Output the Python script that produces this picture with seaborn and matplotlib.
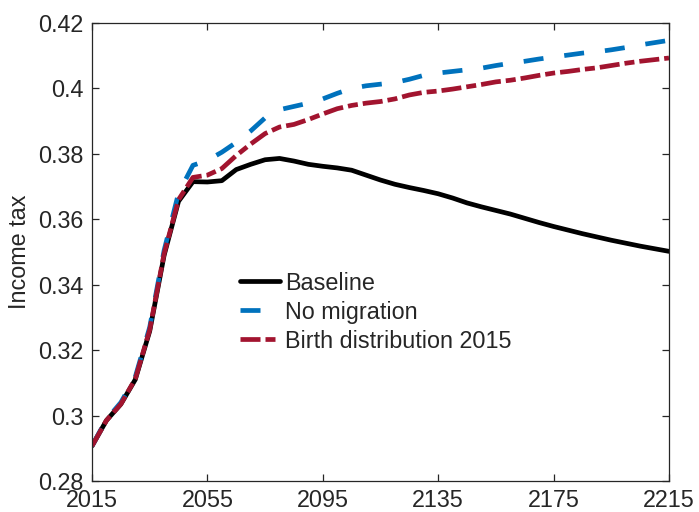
import matplotlib
matplotlib.use("Agg")
import matplotlib.pyplot as plt
import seaborn as sns
import numpy as np
import pandas as pd

years = list(range(2015, 2216, 5))

baseline = [0.2907, 0.2985, 0.3035, 0.3110, 0.3258, 0.3490, 0.3655, 0.3715, 0.3714, 0.3718,
            0.3752, 0.3768, 0.3782, 0.3786, 0.3778, 0.3768, 0.3762, 0.3757, 0.3750, 0.3735,
            0.3720, 0.3707, 0.3697, 0.3688, 0.3678, 0.3665, 0.3650, 0.3638, 0.3627, 0.3616,
            0.3603, 0.3590, 0.3578, 0.3567, 0.3556, 0.3546, 0.3536, 0.3527, 0.3518, 0.3510,
            0.3502]

no_migration = [0.2907, 0.2988, 0.3040, 0.3118, 0.3270, 0.3505, 0.3680, 0.3765, 0.3780, 0.3805,
                0.3835, 0.3870, 0.3910, 0.3935, 0.3945, 0.3955, 0.3968, 0.3985, 0.4000, 0.4008,
                0.4013, 0.4018, 0.4028, 0.4040, 0.4047, 0.4052, 0.4057, 0.4062, 0.4070, 0.4077,
                0.4083, 0.4090, 0.4096, 0.4102, 0.4108, 0.4112, 0.4118, 0.4125, 0.4133, 0.4140,
                0.4147]

birth_2015 = [0.2907, 0.2985, 0.3035, 0.3112, 0.3262, 0.3495, 0.3660, 0.3728, 0.3735, 0.3755,
              0.3795, 0.3830, 0.3862, 0.3882, 0.3890, 0.3905, 0.3922, 0.3938, 0.3948, 0.3955,
              0.3960, 0.3968, 0.3980, 0.3988, 0.3992, 0.3998, 0.4005, 0.4012, 0.4020, 0.4025,
              0.4032, 0.4040, 0.4047, 0.4052, 0.4058, 0.4063, 0.4070, 0.4077, 0.4083, 0.4088,
              0.4093]

series_labels = ["Baseline", "No migration", "Birth distribution 2015"]
x_ticks = [2015, 2055, 2095, 2135, 2175, 2215]
y_ticks = [0.28, 0.30, 0.32, 0.34, 0.36, 0.38, 0.40, 0.42]
y_tick_labels = ["0.28", "0.3", "0.32", "0.34", "0.36", "0.38", "0.4", "0.42"]
y_label = "Income tax"

sns.set_style("ticks")
plt.rcParams['font.family'] = ['Liberation Sans', 'DejaVu Sans']
plt.rcParams['lines.scale_dashes'] = False

FS = 16.8
fig = plt.figure(figsize=(6.99, 5.12), dpi=100)
ax = fig.add_axes([92/699, 1 - 481/512, 577/699, 458/512])

colors = ["#000000", "#0072BD", "#A2142F"]
styles = ["-", (0, (14.4, 15.1)), (0, (14.4, 3.6, 7.2, 3.6))]
lw = 3.4

for vals, lab, c, ls in zip([baseline, no_migration, birth_2015], series_labels, colors, styles):
    df = pd.DataFrame({"year": years, "value": vals})
    sns.lineplot(data=df, x="year", y="value", ax=ax, color=c, linewidth=lw, label=lab)
    ax.lines[-1].set_linestyle(ls)

ax.set_xlim(2015, 2215)
ax.set_ylim(0.28, 0.42)
ax.set_xticks(x_ticks)
ax.set_xticklabels([str(t) for t in x_ticks])
ax.set_yticks(y_ticks)
ax.set_yticklabels(y_tick_labels)
ax.set_xlabel("")
ax.set_ylabel(y_label, fontsize=FS, labelpad=5, color="#262626")

for sp in ax.spines.values():
    sp.set_visible(True)
    sp.set_linewidth(0.9)
    sp.set_color("#262626")

ax.tick_params(direction="in", top=True, right=True, length=5, width=0.9,
               labelsize=FS, colors="#262626", labelcolor="#262626")
ax.tick_params(axis="x", pad=6)
ax.tick_params(axis="y", pad=6)

leg = ax.legend(loc="upper left", bbox_to_anchor=((240 - 92) / 577, (481 - 271.5) / 458),
                frameon=False, fontsize=FS, handlelength=1.72, handletextpad=0.22,
                labelspacing=0.26, borderpad=0, borderaxespad=0)
for line in leg.get_lines():
    line.set_linewidth(lw)

fig.savefig("out.png", dpi=100)
